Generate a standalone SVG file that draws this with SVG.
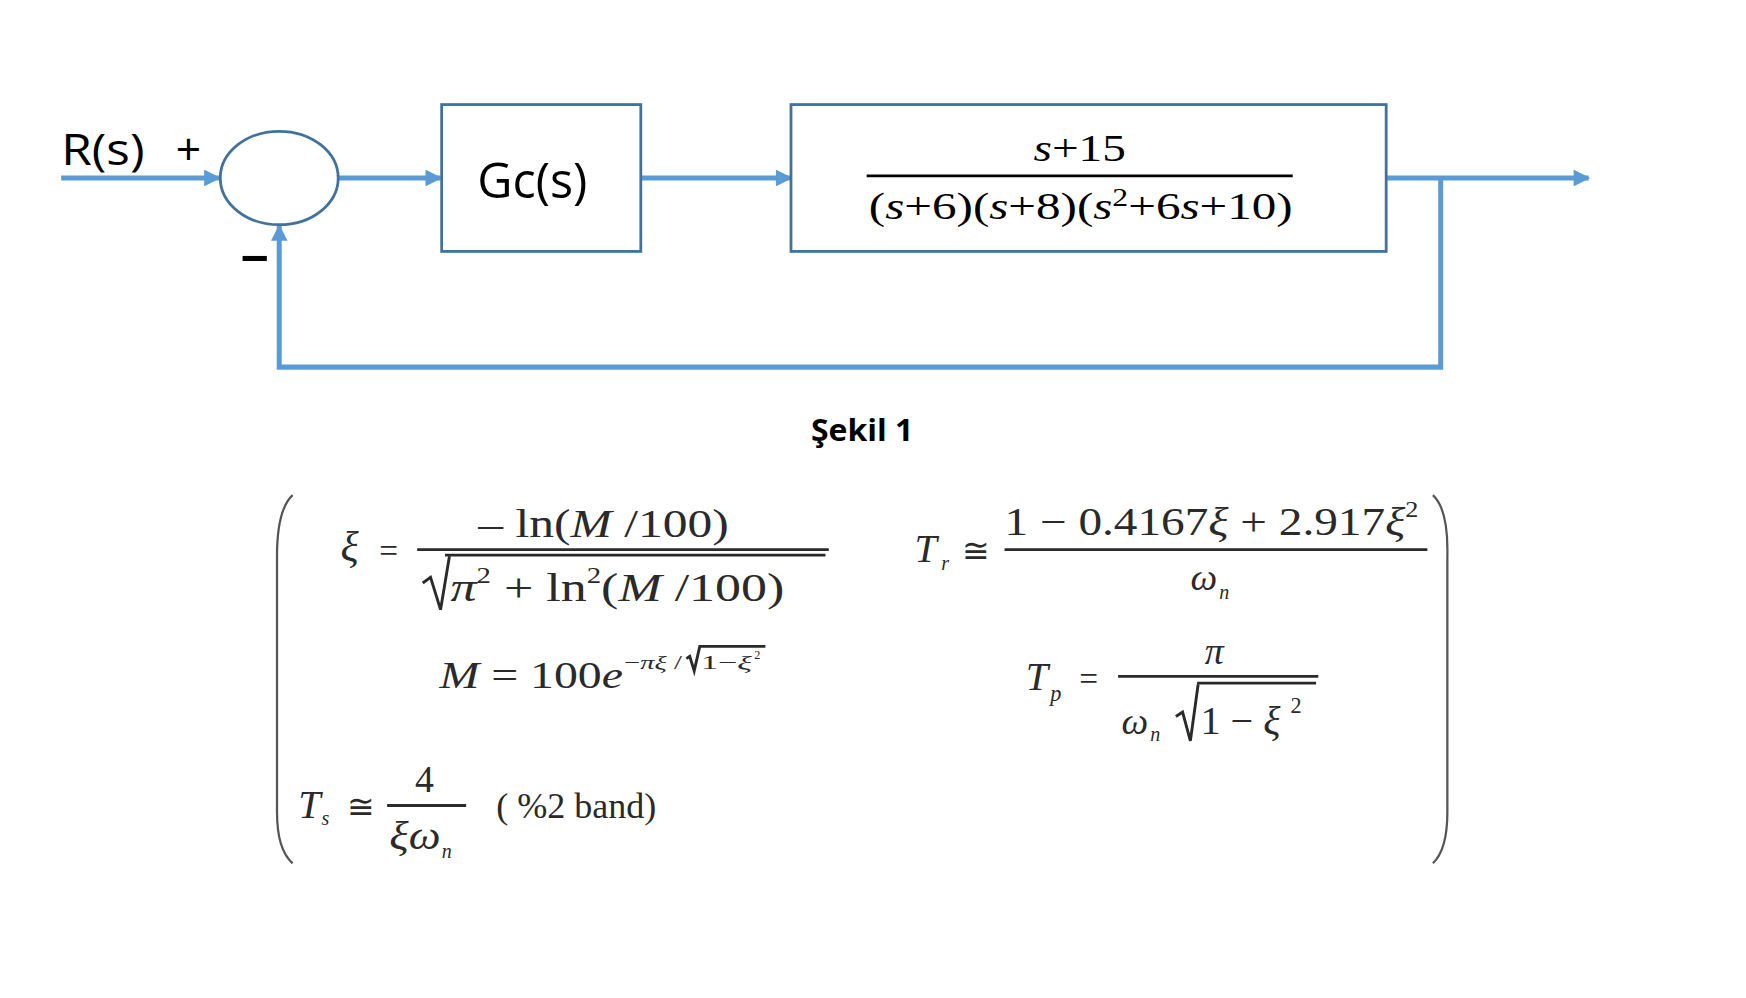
<svg xmlns="http://www.w3.org/2000/svg" width="1746" height="998" viewBox="0 0 1746 998">
<defs>
<marker id="ah" viewBox="0 0 10 10" refX="9" refY="5" markerWidth="16" markerHeight="15" markerUnits="userSpaceOnUse" orient="auto">
<path d="M0,0 L10,5 L0,10 z" fill="#5B9BD5"/>
</marker>
<style>
.wire{fill:none;stroke:#5B9BD5;stroke-width:4.5}
.blk{fill:#fff;stroke:#41719C;stroke-width:2.5}
.lbl{font-family:"Open Sans","Liberation Sans",sans-serif;fill:#000}
.mth{font-family:"Liberation Serif","DejaVu Serif",serif;fill:#000}
.eq{font-family:"Liberation Serif","DejaVu Serif",serif;fill:#2a2a2a}
.it{font-style:italic}
.bar{stroke:#2a2a2a;stroke-width:2.6;fill:none}
.brk{stroke:#555;stroke-width:2;fill:none}
</style>
</defs>
<rect width="1746" height="998" fill="#fff"/>
<g transform="scale(1.1125)">
<g id="connectors">
<path class="wire" d="M55,160 H197" marker-end="url(#ah)"/>
<path class="wire" d="M304,160 H396" marker-end="url(#ah)"/>
<path class="wire" d="M576,160 H711" marker-end="url(#ah)"/>
<path class="wire" d="M1246,160 H1428" marker-end="url(#ah)"/>
<path class="wire" d="M1295,160 V330 H251 V203" marker-end="url(#ah)"/>
</g>
<g id="input-label">
<text class="lbl" x="55" y="148" font-size="40" textLength="75" lengthAdjust="spacingAndGlyphs">R(s)</text>
<text class="lbl" x="158" y="148" font-size="40">+</text>
<text class="lbl" x="216" y="244" font-size="40" font-weight="bold" textLength="26" lengthAdjust="spacingAndGlyphs">–</text>
</g>
<g id="sum">
<ellipse cx="251" cy="160" rx="53" ry="42" fill="#fff" stroke="#41719C" stroke-width="2.5"/>
</g>
<g id="gc">
<rect class="blk" x="397" y="94" width="179" height="132"/>
<text class="lbl" x="429" y="178" font-size="44" textLength="99" lengthAdjust="spacingAndGlyphs">Gc(s)</text>
</g>
<g id="plant">
<rect class="blk" x="711" y="94" width="535" height="132"/>
<text class="mth" x="929" y="145" font-size="34" textLength="83" lengthAdjust="spacingAndGlyphs"><tspan class="it">s</tspan>+15</text>
<line x1="779" y1="158" x2="1162" y2="158" stroke="#000" stroke-width="2.5"/>
<text class="mth" x="781" y="197" font-size="34" textLength="381" lengthAdjust="spacingAndGlyphs">(<tspan class="it">s</tspan>+6)(<tspan class="it">s</tspan>+8)(<tspan class="it">s</tspan><tspan font-size="22" dy="-12">2</tspan><tspan dy="12">+6</tspan><tspan class="it">s</tspan>+10)</text>
</g>
<g id="caption">
<text class="lbl" x="729" y="396" font-size="27" font-weight="bold" textLength="92" lengthAdjust="spacingAndGlyphs">Şekil 1</text>
</g>
<g id="formulas">
<path class="brk" d="M263,445 Q249,458 249,500 L249,730 Q249,764 263,776"/>
<path class="brk" d="M1288,445 Q1302,458 1301,500 L1301,730 Q1301,764 1288,776"/>
<text class="eq it" x="306" y="504" font-size="38">ξ</text>
<text class="eq" x="341" y="505" font-size="30">=</text>
<text class="eq" x="430" y="483" font-size="36" textLength="225" lengthAdjust="spacingAndGlyphs">– ln(<tspan class="it">M</tspan> /100)</text>
<line class="bar" x1="375" y1="494" x2="745" y2="494"/>
<line class="bar" x1="400" y1="499" x2="742" y2="499" stroke-width="2"/>
<path class="bar" d="M380,524 L387,519 L396,548 L404,500" stroke-width="2.2"/>
<text class="eq" x="405" y="540" font-size="36" textLength="300" lengthAdjust="spacingAndGlyphs"><tspan class="it">π</tspan><tspan font-size="20" dy="-16">2</tspan><tspan dy="16"> + ln</tspan><tspan font-size="20" dy="-16">2</tspan><tspan dy="16">(</tspan><tspan class="it">M</tspan> /100)</text>
<text class="eq" x="395" y="618" font-size="34" textLength="165" lengthAdjust="spacingAndGlyphs"><tspan class="it">M</tspan> = 100<tspan class="it">e</tspan></text>
<text class="eq" x="561" y="601" font-size="17" textLength="52" lengthAdjust="spacingAndGlyphs">−<tspan class="it">πξ</tspan> /</text>
<path class="bar" d="M617,592 L620,590 L624,603 L629,581 H688" stroke-width="1.5"/>
<text class="eq" x="630" y="601" font-size="17" textLength="46" lengthAdjust="spacingAndGlyphs">1−<tspan class="it">ξ</tspan></text>
<text class="eq" x="678" y="592" font-size="11">2</text>
<text class="eq it" x="822" y="505" font-size="36">T</text>
<text class="eq it" x="846" y="512" font-size="18">r</text>
<text class="eq" x="865" y="505" font-size="30">≅</text>
<text class="eq" x="903" y="481" font-size="36" textLength="372" lengthAdjust="spacingAndGlyphs">1 − 0.4167<tspan class="it">ξ</tspan> + 2.917<tspan class="it">ξ</tspan><tspan font-size="20" dy="-16">2</tspan></text>
<line class="bar" x1="903" y1="494" x2="1283" y2="494"/>
<text class="eq it" x="1070" y="530" font-size="34">ω</text>
<text class="eq it" x="1096" y="538" font-size="18">n</text>
<text class="eq it" x="922" y="620" font-size="36">T</text>
<text class="eq it" x="944" y="630" font-size="20">p</text>
<text class="eq" x="970" y="620" font-size="30">=</text>
<text class="eq it" x="1083" y="597" font-size="34">π</text>
<line class="bar" x1="1005" y1="608" x2="1185" y2="608"/>
<line class="bar" x1="1076" y1="614" x2="1183" y2="614" stroke-width="2"/>
<text class="eq it" x="1008" y="660" font-size="34">ω</text>
<text class="eq it" x="1034" y="666" font-size="18">n</text>
<path class="bar" d="M1057,644 L1063,640 L1070,666 L1077,615" stroke-width="2.2"/>
<text class="eq" x="1079" y="660" font-size="36" textLength="72" lengthAdjust="spacingAndGlyphs">1 − <tspan class="it">ξ</tspan></text>
<text class="eq" x="1160" y="641" font-size="20">2</text>
<text class="eq it" x="268" y="735" font-size="36">T</text>
<text class="eq it" x="289" y="742" font-size="18">s</text>
<text class="eq" x="312" y="735" font-size="30">≅</text>
<text class="eq" x="373" y="712" font-size="34">4</text>
<line class="bar" x1="348" y1="724" x2="419" y2="724"/>
<text class="eq it" x="350" y="763" font-size="36" textLength="46" lengthAdjust="spacingAndGlyphs">ξω</text>
<text class="eq it" x="397" y="771" font-size="18">n</text>
<text class="eq" x="446" y="735" font-size="32" textLength="144" lengthAdjust="spacingAndGlyphs">( %2 band)</text>
</g>
</g>
</svg>
